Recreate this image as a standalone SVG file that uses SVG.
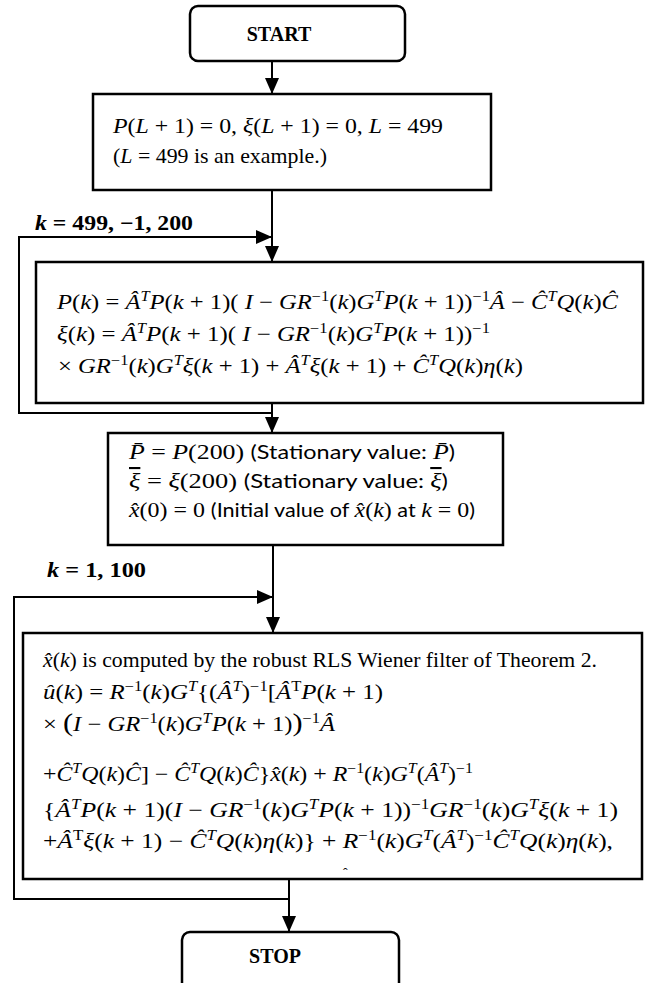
<svg xmlns="http://www.w3.org/2000/svg" width="647" height="983" viewBox="0 0 647 983">
<defs>
<style>
.box{fill:#fff;stroke:#000;stroke-width:2.5}
.conn{fill:none;stroke:#000;stroke-width:2}
.t{font-family:"Liberation Serif","DejaVu Serif",serif;font-size:21px;fill:#000}
.i{font-style:italic}
.s{font-size:14px;baseline-shift:8px}
.cal{font-family:"Lato","Liberation Sans",sans-serif;font-size:19px}
.lbl{font-weight:bold}
.bp{font-size:26px}
.ov{text-decoration:overline}
</style>
<marker id="ah" markerWidth="16" markerHeight="14" refX="16" refY="7" orient="auto" markerUnits="userSpaceOnUse"><path d="M0,0 L16,7 L0,14 z" fill="#000"/></marker>
</defs>
<rect width="647" height="983" fill="#fff"/>

<g id="connectors">
<line class="conn" x1="272" y1="61" x2="272" y2="94" marker-end="url(#ah)"/>
<line class="conn" x1="272" y1="190" x2="272" y2="262" marker-end="url(#ah)"/>
<polyline class="conn" points="272,413 19,413 19,237 272,237" marker-end="url(#ah)"/>
<line class="conn" x1="272" y1="403" x2="272" y2="433" marker-end="url(#ah)"/>
<line class="conn" x1="273" y1="545" x2="273" y2="633" marker-end="url(#ah)"/>
<polyline class="conn" points="289,899 14,899 14,597 273,597" marker-end="url(#ah)"/>
<line class="conn" x1="289" y1="879" x2="289" y2="932" marker-end="url(#ah)"/>
<text class="t lbl" x="35" y="230" textLength="158" lengthAdjust="spacingAndGlyphs"><tspan class="i">k</tspan> = 499, −1, 200</text>
<text class="t lbl" x="47" y="577" textLength="99" lengthAdjust="spacingAndGlyphs"><tspan class="i">k</tspan> = 1, 100</text>
</g>

<g id="start">
<rect class="box" x="190" y="6" width="215" height="55" rx="8"/>
<text class="t lbl" x="279" y="41" text-anchor="middle" style="font-size:20px">START</text>
</g>

<g id="init">
<rect class="box" x="93" y="94" width="398" height="96"/>
<text class="t" x="113" y="133" textLength="330" lengthAdjust="spacingAndGlyphs"><tspan class="i">P</tspan>(<tspan class="i">L</tspan> + 1) = 0, <tspan class="i">ξ</tspan>(<tspan class="i">L</tspan> + 1) = 0, <tspan class="i">L</tspan> = 499</text>
<text class="t" x="113" y="163" textLength="214" lengthAdjust="spacingAndGlyphs">(<tspan class="i">L</tspan> = 499 is an example.)</text>
</g>

<g id="riccati">
<rect class="box" x="36" y="262" width="607" height="141"/>
<text class="t" x="57" y="309" textLength="561" lengthAdjust="spacingAndGlyphs"><tspan class="i">P</tspan>(<tspan class="i">k</tspan>) = <tspan class="i">Â</tspan><tspan class="s i">T</tspan><tspan class="i">P</tspan>(<tspan class="i">k</tspan> + 1)( <tspan class="i">I</tspan> − <tspan class="i">GR</tspan><tspan class="s">−1</tspan>(<tspan class="i">k</tspan>)<tspan class="i">G</tspan><tspan class="s i">T</tspan><tspan class="i">P</tspan>(<tspan class="i">k</tspan> + 1))<tspan class="s">−1</tspan><tspan class="i">Â</tspan> − <tspan class="i">Ĉ</tspan><tspan class="s i">T</tspan><tspan class="i">Q</tspan>(<tspan class="i">k</tspan>)<tspan class="i">Ĉ</tspan></text>
<text class="t" x="57" y="341" textLength="433" lengthAdjust="spacingAndGlyphs"><tspan class="i">ξ</tspan>(<tspan class="i">k</tspan>) = <tspan class="i">Â</tspan><tspan class="s i">T</tspan><tspan class="i">P</tspan>(<tspan class="i">k</tspan> + 1)( <tspan class="i">I</tspan> − <tspan class="i">GR</tspan><tspan class="s">−1</tspan>(<tspan class="i">k</tspan>)<tspan class="i">G</tspan><tspan class="s i">T</tspan><tspan class="i">P</tspan>(<tspan class="i">k</tspan> + 1))<tspan class="s">−1</tspan></text>
<text class="t" x="58" y="373" textLength="465" lengthAdjust="spacingAndGlyphs">× <tspan class="i">GR</tspan><tspan class="s">−1</tspan>(<tspan class="i">k</tspan>)<tspan class="i">G</tspan><tspan class="s i">T</tspan><tspan class="i">ξ</tspan>(<tspan class="i">k</tspan> + 1) + <tspan class="i">Â</tspan><tspan class="s i">T</tspan><tspan class="i">ξ</tspan>(<tspan class="i">k</tspan> + 1) + <tspan class="i">Ĉ</tspan><tspan class="s i">T</tspan><tspan class="i">Q</tspan>(<tspan class="i">k</tspan>)<tspan class="i">η</tspan>(<tspan class="i">k</tspan>)</text>
</g>

<g id="stationary">
<rect class="box" x="108" y="433" width="395" height="112"/>
<text class="t" x="129" y="459" textLength="326" lengthAdjust="spacingAndGlyphs"><tspan class="i">P&#x0304;</tspan> = <tspan class="i">P</tspan>(200) <tspan class="cal">(Stationary value: </tspan><tspan class="i">P&#x0304;</tspan><tspan class="cal">)</tspan></text>
<text class="t" x="129" y="488" textLength="319" lengthAdjust="spacingAndGlyphs"><tspan class="i ov">ξ</tspan> = <tspan class="i">ξ</tspan>(200) <tspan class="cal">(Stationary value: </tspan><tspan class="i ov">ξ</tspan><tspan class="cal">)</tspan></text>
<text class="t" x="129" y="517" textLength="346" lengthAdjust="spacingAndGlyphs"><tspan class="i">x&#x0302;</tspan>(0) = 0 <tspan class="cal">(Initial value of </tspan><tspan class="i">x&#x0302;</tspan>(<tspan class="i">k</tspan>)<tspan class="cal"> at </tspan><tspan class="i">k</tspan> = 0<tspan class="cal">)</tspan></text>
</g>

<g id="filter">
<rect class="box" x="23" y="633" width="619" height="246"/>
<text class="t" x="43" y="667" textLength="554" lengthAdjust="spacingAndGlyphs"><tspan class="i">x&#x0302;</tspan>(<tspan class="i">k</tspan>) is computed by the robust RLS Wiener filter of Theorem 2.</text>
<text class="t" x="43" y="699" textLength="340" lengthAdjust="spacingAndGlyphs"><tspan class="i">û</tspan>(<tspan class="i">k</tspan>) = <tspan class="i">R</tspan><tspan class="s">−1</tspan>(<tspan class="i">k</tspan>)<tspan class="i">G</tspan><tspan class="s i">T</tspan>{(<tspan class="i">Â</tspan><tspan class="s i">T</tspan>)<tspan class="s">−1</tspan>[<tspan class="i">Â</tspan><tspan class="s">T</tspan><tspan class="i">P</tspan>(<tspan class="i">k</tspan> + 1)</text>
<text class="t" x="43" y="731" textLength="292" lengthAdjust="spacingAndGlyphs">× <tspan class="bp">(</tspan><tspan class="i">I</tspan> − <tspan class="i">GR</tspan><tspan class="s">−1</tspan>(<tspan class="i">k</tspan>)<tspan class="i">G</tspan><tspan class="s i">T</tspan><tspan class="i">P</tspan>(<tspan class="i">k</tspan> + 1)<tspan class="bp">)</tspan><tspan class="s">−1</tspan><tspan class="i">Â</tspan></text>
<text class="t" x="43" y="781" textLength="430" lengthAdjust="spacingAndGlyphs">+<tspan class="i">Ĉ</tspan><tspan class="s i">T</tspan><tspan class="i">Q</tspan>(<tspan class="i">k</tspan>)<tspan class="i">Ĉ</tspan>] − <tspan class="i">Ĉ</tspan><tspan class="s i">T</tspan><tspan class="i">Q</tspan>(<tspan class="i">k</tspan>)<tspan class="i">Ĉ</tspan>}<tspan class="i">x&#x0302;</tspan>(<tspan class="i">k</tspan>) + <tspan class="i">R</tspan><tspan class="s">−1</tspan>(<tspan class="i">k</tspan>)<tspan class="i">G</tspan><tspan class="s i">T</tspan>(<tspan class="i">Â</tspan><tspan class="s i">T</tspan>)<tspan class="s">−1</tspan></text>
<text class="t" x="43" y="817" textLength="575" lengthAdjust="spacingAndGlyphs">{<tspan class="i">Â</tspan><tspan class="s i">T</tspan><tspan class="i">P</tspan>(<tspan class="i">k</tspan> + 1)(<tspan class="i">I</tspan> − <tspan class="i">GR</tspan><tspan class="s">−1</tspan>(<tspan class="i">k</tspan>)<tspan class="i">G</tspan><tspan class="s i">T</tspan><tspan class="i">P</tspan>(<tspan class="i">k</tspan> + 1))<tspan class="s">−1</tspan><tspan class="i">GR</tspan><tspan class="s">−1</tspan>(<tspan class="i">k</tspan>)<tspan class="i">G</tspan><tspan class="s i">T</tspan><tspan class="i">ξ</tspan>(<tspan class="i">k</tspan> + 1)</text>
<text class="t" x="43" y="848" textLength="570" lengthAdjust="spacingAndGlyphs">+<tspan class="i">Â</tspan><tspan class="s">T</tspan><tspan class="i">ξ</tspan>(<tspan class="i">k</tspan> + 1) − <tspan class="i">Ĉ</tspan><tspan class="s i">T</tspan><tspan class="i">Q</tspan>(<tspan class="i">k</tspan>)<tspan class="i">η</tspan>(<tspan class="i">k</tspan>)} + <tspan class="i">R</tspan><tspan class="s">−1</tspan>(<tspan class="i">k</tspan>)<tspan class="i">G</tspan><tspan class="s i">T</tspan>(<tspan class="i">Â</tspan><tspan class="s i">T</tspan>)<tspan class="s">−1</tspan><tspan class="i">Ĉ</tspan><tspan class="s i">T</tspan><tspan class="i">Q</tspan>(<tspan class="i">k</tspan>)<tspan class="i">η</tspan>(<tspan class="i">k</tspan>),</text>
<text class="t" x="343" y="878" style="font-size:14px">ˆ</text>
</g>

<g id="stop">
<rect class="box" x="182" y="932" width="217" height="70" rx="8"/>
<text class="t lbl" x="275" y="963" text-anchor="middle" style="font-size:20px">STOP</text>
</g>
</svg>
